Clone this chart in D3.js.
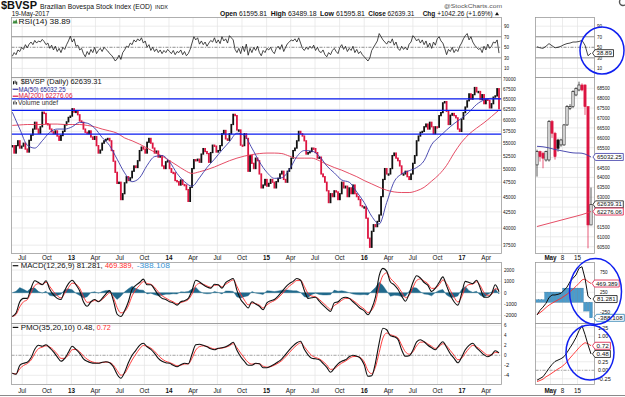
<!DOCTYPE html>
<html><head><meta charset="utf-8">
<script src="https://cdn.jsdelivr.net/npm/d3@7/dist/d3.min.js"></script>
<style>
html,body{margin:0;padding:0;background:#fff;}
svg{display:block;}
text{font-family:"Liberation Sans",Arial,sans-serif;}
</style></head><body>
<svg id="chart" width="625" height="397"></svg>
<script>
// ---------------- DATA ----------------
const weekStart = "2012-05-25";            // first weekly bar (Fridays)
const xDomain = ["2012-05-22", "2017-05-19"];
// weekly closes, thousands of points
const closes = [
54.5,53.0,54.5,55.5,54.0,54.4,55.0,53.8,53.2,55.6,
56.7,58.0,59.5,58.0,57.1,58.5,61.8,61.5,59.2,59.0,
58.0,57.4,57.0,57.6,56.5,55.6,56.6,57.5,58.9,59.6,
60.6,60.9,
62.6,61.8,62.0,61.2,59.8,59.5,58.0,57.3,57.0,57.6,
56.3,55.8,56.4,54.5,53.0,53.6,55.0,55.5,55.8,56.0,
55.5,53.5,51.4,49.3,47.3,47.5,44.5,45.5,47.4,48.5,
47.8,48.3,49.5,50.5,50.2,51.5,53.5,54.2,53.8,53.0,
55.2,56.0,55.0,54.0,53.0,53.4,52.2,52.5,50.5,50.0,
51.3,51.5,
50.0,49.3,49.2,47.8,47.6,47.0,47.9,47.1,47.0,46.2,
44.2,46.6,50.0,51.7,51.5,51.8,51.2,52.8,53.9,53.3,
52.9,51.2,53.1,54.6,54.4,53.2,53.5,54.5,57.0,57.7,
55.9,55.6,57.0,59.0,61.3,61.0,57.8,57.8,54.6,54.5,
57.0,56.0,49.5,52.5,51.0,50.0,52.0,51.5,49.0,46.5,
47.0,48.0,
46.8,47.3,48.0,47.5,46.5,47.6,48.2,49.0,49.5,48.0,
47.5,49.5,50.0,52.0,53.5,54.0,55.5,57.5,57.0,56.5,
55.5,52.8,53.1,53.3,54.0,53.9,53.1,52.0,52.2,49.0,
48.5,47.5,46.0,44.0,45.5,45.0,46.0,45.8,44.5,45.5,
47.5,46.5,46.8,45.0,46.5,45.5,47.0,45.5,45.0,44.5,
43.5,43.3,
43.3,41.5,38.5,37.2,39.5,40.5,40.2,41.0,42.0,45.0,
48.0,50.0,49.0,49.0,50.0,52.5,53.0,52.0,51.5,50.5,
49.0,49.0,49.5,48.5,48.0,49.0,51.0,52.5,55.5,56.5,
57.3,57.5,58.5,59.1,58.0,59.5,58.5,57.0,58.5,58.4,
61.0,61.7,64.0,64.3,62.0,59.0,61.1,61.5,61.0,60.5,
58.0,57.5,60.2,
61.7,63.0,64.5,66.2,64.9,66.0,67.8,66.7,66.8,64.8,
66.0,63.8,64.9,64.6,62.8,63.8,65.4,65.7,67.5,62.6
];
// moving averages, one value every 4 weeks (thousands)
const ma50 = [
61.8,58.0,54.6,54.0,55.5,57.3,58.0,58.0,58.5,59.5,
59.3,58.2,56.2,54.5,51.8,49.2,47.6,48.3,50.6,52.3,
52.5,51.3,49.1,47.6,46.8,48.3,50.2,51.8,53.6,55.3,
57.1,56.6,54.0,51.3,49.3,48.2,48.3,49.8,52.3,53.5,
53.4,52.4,50.5,49.2,47.9,47.5,45.8,44.0,41.8,40.6,
44.0,47.6,49.0,49.6,50.2,51.5,54.7,56.3,57.8,59.2,
60.4,61.8,63.6,64.7,65.1,65.03];
const ma200 = [
58.8,58.9,59.0,59.0,59.0,59.1,59.1,59.0,59.0,59.0,
58.8,58.5,58.0,57.6,57.1,56.1,55.5,54.8,54.0,53.2,
52.4,51.5,50.6,49.7,49.1,49.4,49.8,50.3,50.9,51.5,
52.0,52.4,52.7,52.9,53.0,53.0,52.9,52.4,52.0,52.0,
52.0,51.5,50.8,50.2,49.7,49.1,48.5,47.8,47.2,46.6,
46.1,45.8,45.7,45.7,46.0,46.6,47.7,48.9,50.6,53.0,
55.2,56.9,58.2,59.4,60.8,62.28];
const hLines = [64.95, 62.2, 56.9];
// weekly RSI(14)
const rsi = [
33,40,36,45,42,50,46,55,49,56, 60,55,63,58,62,60,65,61,55,58,
48,54,45,52,42,48,40,50,46,55, 62,71,60,66,52,54,45,48,38,32,
42,36,46,40,50,38,44,48,42,50, 46,43,38,35,30,24,28,35,27,40,
45,52,50,58,55,64,60,66,62,68, 58,62,50,55,44,50,42,47,40,45,
38,44,40,46,42,38,44,36,42,40, 45,36,42,34,38,46,58,70,64,68,
56,62,55,60,52,58,63,60,68,58, 64,57,70,62,66,58,72,68,64,46,
40,48,38,52,42,56,35,48,40,50, 44,52,40,34,44,40,48,45,50,42,
38,48,52,46,55,42,50,57,60,64, 62,66,60,68,58,48,44,50,46,52,
48,54,44,50,42,40,45,36,32,40, 36,44,48,42,38,50,55,46,52,42,
48,44,52,40,46,38,42,36,32,28, 24,30,44,50,56,62,76,70,64,60,
56,62,58,66,54,60,48,44,52,46, 50,45,56,60,72,68,62,66,58,64,
55,62,50,58,48,60,54,66,70,62, 58,48,36,46,42,50,40,46,42,52,
58,66,72,76,64,70,60,54,50,46, 48,40,52,45,56,48,52,60,58,64,39
];
// MACD(12,26,9) line, one value every 2 weeks
const macd = [
-2100,-1800,-800,-500,-500,400,1050,900,700,1050,
300,-200,-500,-600,200,800,1100,700,150,-800,
-1200,-800,-600,-800,-500,-100,200,-700,-1900,-2100,
-1600,-800,300,650,900,1200,700,700,300,-200,
-500,-600,-800,-900,-1100,-800,-700,-500,200,1100,
950,700,500,400,750,700,400,900,1100,1250,
200,-600,-1000,-1350,-800,-1000,-1200,-1500,-900,-700,
-600,-300,100,500,800,1000,1250,1100,200,-500,
-450,-400,-750,-1100,-1400,-1650,-900,-800,-500,-400,
-500,-800,-1100,-1400,-1600,-1950,-1400,-400,1500,2150,
1900,950,700,300,-300,-750,-100,900,1500,1300,
900,650,100,400,900,1400,600,-200,-800,-1100,
-100,1000,900,800,1100,400,-400,-400,-100,700,
81];
// PMO(35,20,10), one value every 2 weeks
const pmo = [
-3.6,-3.8,-2.0,-1.6,-1.4,-0.5,1.2,2.0,1.8,2.1,
1.5,0.7,-0.3,-1.2,-0.6,0.6,1.8,1.2,0.4,-0.7,
-1.2,-1.5,-1.6,-1.6,-1.4,-1.3,-1.5,-2.3,-3.8,-4.6,
-3.4,-1.5,0.0,1.0,2.0,2.4,1.7,1.2,0.4,-0.6,
-1.2,-1.5,-1.6,-2.0,-2.3,-1.9,-1.6,-1.7,0.2,2.1,
2.2,2.0,1.7,1.3,1.1,1.4,1.5,1.7,2.1,2.6,
1.0,-0.3,-1.2,-2.0,-2.0,-1.6,-1.7,-2.5,-2.5,-2.2,
-1.8,-1.3,-0.7,0.2,1.1,1.9,2.5,2.8,1.2,0.1,
-0.6,-0.7,-0.9,-1.6,-2.4,-3.4,-2.6,-1.7,-1.2,-0.9,
-0.3,0.0,-0.2,-0.6,-1.9,-4.2,-4.1,-1.5,2.5,5.4,
5.1,3.9,3.7,3.2,1.1,-0.2,-0.1,1.0,2.7,3.1,
2.7,2.0,1.5,1.1,2.0,2.7,1.6,0.3,-0.6,-1.5,
-0.4,1.1,2.0,2.4,1.5,0.8,0.1,-0.3,0.1,0.9,
0.48];
const signalAlpha = 0.6;
// axis ticks
const priceTicks = [70000,67500,65000,62500,60000,57500,55000,52500,50000,47500,45000,42500,40000,37500];
const rsiTicks = [90,70,50,30,10];
const macdTicks = [2000,1000,0,-1000,-2000];
const pmoTicks = [6,4,2,0,-2,-4];
const xTickDates = ["2012-07-01","2012-10-01","2013-01-01","2013-04-01","2013-07-01","2013-10-01",
 "2014-01-01","2014-04-01","2014-07-01","2014-10-01","2015-01-01","2015-04-01","2015-07-01","2015-10-01",
 "2016-01-01","2016-04-01","2016-07-01","2016-10-01","2017-01-01","2017-04-01"];
const xTickLabels = ["Jul","Oct","13","Apr","Jul","Oct","14","Apr","Jul","Oct","15","Apr","Jul","Oct","16","Apr","Jul","Oct","17","Apr"];
// last-month detail panel (daily)
const miniDays = ["2017-04-24","2017-04-25","2017-04-26","2017-04-27","2017-04-28","2017-05-02","2017-05-03","2017-05-04","2017-05-05",
 "2017-05-08","2017-05-09","2017-05-10","2017-05-11","2017-05-12","2017-05-15","2017-05-16","2017-05-17","2017-05-18","2017-05-19"];
const miniOpen  = [64630,65300,65220,64880,64880,66820,66230,65890,65640,65640,66650,67490,67575,68164,68416,68667,68667,67575,61597];
const miniHigh  = [65400,65350,65300,65350,66900,66900,66300,65950,65950,66700,67650,67700,68400,68550,68835,68750,68700,67575,63489];
const miniLow   = [64040,64800,64460,64800,64800,66000,64900,65300,65550,65600,66600,67400,67500,68100,68350,68350,67155,60420,61597];
const miniClose = [65300,65050,64970,65300,66820,66230,65050,65470,65890,66650,67575,67575,68330,68500,68667,68416,67575,61597,62639];
const miniMA50  = [65570,65560,65545,65520,65490,65450,65410,65380,65350,65320,65290,65260,65240,65230,65230,65220,65180,65110,65032];
const miniMA200 = [61520,61560,61600,61640,61680,61720,61760,61800,61840,61880,61920,61960,62000,62040,62080,62120,62170,62220,62276];
const miniRSI   = [51,49,48,52,57,53,49,50,52,55,57,58,60,60,61,63,54,34,38.89];
const miniMACD  = [-318,-200,-120,-25,120,183,183,200,225,300,380,516,600,683,850,890,600,150,81.281];
const miniSignal= [-300,-260,-200,-130,-70,-25,20,60,100,150,200,266,330,400,475,560,583,520,469.389];
const miniHist  = [65,65,65,255,255,255,255,255,255,355,355,355,355,355,355,355,-220,-220,-388.108];
const miniPMO   = [-0.29,-0.24,-0.19,-0.07,0.06,0.17,0.26,0.30,0.34,0.40,0.52,0.66,0.80,0.96,1.16,1.31,1.05,0.75,0.48];
const miniPMOSig= [-0.33,-0.30,-0.26,-0.19,-0.14,-0.08,-0.02,0.04,0.09,0.16,0.25,0.36,0.46,0.56,0.66,0.75,0.81,0.78,0.72];
const miniPriceTicks = [68500,68000,67500,67000,66500,66000,65500,64500,64000,63500,63000,61500,61000,60500];
const miniPriceGrid = [68500,68000,67500,67000,66500,66000,65500,65000,64500,64000,63500,63000,62500,62000,61500,61000,60500];
const miniMACDTicks = [750,250,-250];
const miniMACDGrid = [750,500,250,0,-250];
const miniPMOTicks = ["1.25","1.00","0.25","0.00","-0.25"];
const miniPMOGrid = [1.25,1.0,0.75,0.5,0.25,0,-0.25];
const miniXTicks = ["2017-05-02","2017-05-08","2017-05-15"];
const miniXLabels = ["May","8","15"];

// ---------------- LAYOUT ----------------
const svg = d3.select("#chart");
const L = 11.5, R = 501.5, ML = 535.5, MR = 594.5;
const P = {rsi:[17.5,77.5], price:[77.5,253.5], macd:[262.5,323.5], pmo:[323.5,384.5]};
const parse = d3.utcParse("%Y-%m-%d");
const firstWeek = parse(weekStart);
const weekDates = closes.map((_, i) => d3.utcDay.offset(firstWeek, 7 * i));
const x = d3.scaleUtc().domain(xDomain.map(parse)).range([L, 499]);
const yP = d3.scaleLog().domain([36.344, 70.396]).range([253.5, 77.5]);
const yR = d3.scaleLinear().domain([0, 100]).range([73.7, 20.9]);
const yM = d3.scaleLinear().domain([-2000, 2000]).range([315.36, 270.04]);
const yO = d3.scaleLinear().domain([-4, 6]).range([375.3, 325.3]);
const xm = d3.scaleBand().domain(miniDays).range([ML, 592.5]);
const xmc = d => xm(d) + xm.bandwidth() / 2;
const ymP = d3.scaleLinear().domain([60500, 68500]).range([246.7, 88.3]);
const ymM = d3.scaleLinear().domain([0, 750]).range([302.3, 272.3]);
const ymO = d3.scaleLinear().domain([0, 1.25]).range([370.3, 327.7]);

const GRID = "#e4e4e4", BORDER = "#9c9c9c", RED = "#dd1541", BLUE_MA = "#3a3aa8";

function hline(g, x1, x2, y, color, w, dash) {
  const l = g.append("line").attr("x1", x1).attr("x2", x2).attr("y1", y).attr("y2", y)
    .attr("stroke", color).attr("stroke-width", w);
  if (dash) l.attr("stroke-dasharray", dash);
  return l;
}
function vline(g, xx, y1, y2, color, w) {
  return g.append("line").attr("x1", xx).attr("x2", xx).attr("y1", y1).attr("y2", y2).attr("stroke", color).attr("stroke-width", w);
}
function tlabel(xp, yp, s, opts = {}) {
  const t = svg.append("text").attr("x", xp).attr("y", yp).attr("font-size", opts.size || 5.6)
    .attr("fill", opts.fill || "#111").text(s);
  if (opts.weight) t.attr("font-weight", opts.weight);
  if (opts.anchor) t.attr("text-anchor", opts.anchor);
  if (opts.len) t.attr("textLength", opts.len).attr("lengthAdjust", "spacingAndGlyphs");
  return t;
}
function ytick(xp, yp, s) { tlabel(xp, yp + 2, s, {len: s.length * 2.55}); }

// ---------------- GRIDS ----------------
const grid = svg.append("g");
const tickDates = xTickDates.map(parse);
Object.values(P).forEach(([t, b]) => tickDates.forEach(d => vline(grid, x(d), t, b, GRID, 0.7)));
rsiTicks.forEach(v => hline(grid, L, R, yR(v), GRID, 0.7));
priceTicks.forEach(v => hline(grid, L, R, yP(v / 1000), GRID, 0.7));
macdTicks.forEach(v => hline(grid, L, R, yM(v), GRID, 0.7));
pmoTicks.forEach(v => hline(grid, L, R, yO(v), GRID, 0.7));
const mg = svg.append("g");
Object.values(P).forEach(([t, b]) => miniXTicks.forEach(d => vline(mg, xm(d), t, b, GRID, 0.7)));
rsiTicks.forEach(v => hline(mg, ML, MR, yR(v), GRID, 0.7));
miniPriceGrid.forEach(v => hline(mg, ML, MR, ymP(v), GRID, 0.7));
miniMACDGrid.forEach(v => hline(mg, ML, MR, ymM(v), GRID, 0.7));
miniPMOGrid.forEach(v => hline(mg, ML, MR, ymO(v), GRID, 0.7));

// ---------------- RSI ----------------
[[70, null], [30, null], [50, "3,1.5,1,1.5"]].forEach(([v, d]) => {
  hline(svg, L, R, yR(v), "#7d7d7d", 0.8, d);
  hline(svg, ML, MR, yR(v), "#7d7d7d", 0.8, d);
});
svg.append("path").datum(rsi).attr("fill", "none").attr("stroke", "#1a1a1a").attr("stroke-width", 0.8)
  .attr("d", d3.line().x((d, i) => x(weekDates[i])).y(d => yR(d)));
svg.append("path").datum(miniRSI).attr("fill", "none").attr("stroke", "#1a1a1a").attr("stroke-width", 0.8)
  .attr("d", d3.line().x((d, i) => xmc(miniDays[i])).y(d => yR(d)));

// ---------------- PRICE ----------------
const cg = svg.append("g");
closes.forEach((c, i) => {
  const o = i ? closes[i - 1] : c;
  const y1 = yP(Math.max(o, c)), y2 = yP(Math.min(o, c));
  cg.append("rect").attr("x", x(weekDates[i]) - 0.9).attr("width", 1.8)
    .attr("y", y1 - 0.6).attr("height", Math.max(1.2, y2 - y1) + 1.2)
    .attr("fill", c >= o ? "#111" : RED);
});
const maLine = step => d3.line().curve(d3.curveMonotoneX).x((d, i) => x(weekDates[Math.min(i * step, weekDates.length - 1)])).y(d => yP(d));
svg.append("path").datum(ma200).attr("fill", "none").attr("stroke", "#e23a55").attr("stroke-width", 0.9).attr("d", maLine(4));
svg.append("path").datum(ma50).attr("fill", "none").attr("stroke", BLUE_MA).attr("stroke-width", 0.9).attr("d", maLine(4));
hLines.forEach(v => hline(svg, L, R, yP(v), "#0a1cf0", 1.3));

// mini price
const mcg = svg.append("g");
miniDays.forEach((d, i) => {
  const o = miniOpen[i], c = miniClose[i], prev = i ? miniClose[i - 1] : o;
  const col = c >= prev ? "#111" : RED;
  const cx = xmc(d);
  vline(mcg, cx, ymP(miniHigh[i]), ymP(miniLow[i]), col, 0.7);
  const y1 = ymP(Math.max(o, c)), y2 = ymP(Math.min(o, c));
  mcg.append("rect").attr("x", cx - 1.1).attr("width", 2.2).attr("y", y1).attr("height", Math.max(0.8, y2 - y1))
    .attr("fill", c > o ? "#fff" : col).attr("stroke", col).attr("stroke-width", 0.6);
});
const mLine = arr => d3.line().x((d, i) => xmc(miniDays[i])).y(d => arr(d));
svg.append("path").datum(miniMA200).attr("fill", "none").attr("stroke", "#e23a55").attr("stroke-width", 0.9).attr("d", mLine(ymP));
svg.append("path").datum(miniMA50).attr("fill", "none").attr("stroke", BLUE_MA).attr("stroke-width", 0.9).attr("d", mLine(ymP));

// ---------------- MACD ----------------
const ema = (arr, a) => { let p; return arr.map((v, i) => (p = i ? p + a * (v - p) : v)); };
const biDates = macd.map((_, i) => weekDates[Math.min(2 * i, weekDates.length - 1)]);
const macdSig = ema(macd, signalAlpha);
const macdHist = macd.map((v, i) => v - macdSig[i]);
svg.append("path").datum(macdHist).attr("fill", "#20698c").attr("stroke", "#20698c").attr("stroke-width", 0.4)
  .attr("d", d3.area().x((d, i) => x(biDates[i])).y0(yM(0)).y1(d => yM(d)));
svg.append("path").datum(macdSig).attr("fill", "none").attr("stroke", "#ff2a2a").attr("stroke-width", 0.9)
  .attr("d", d3.line().curve(d3.curveMonotoneX).x((d, i) => x(biDates[i])).y(d => yM(d)));
svg.append("path").datum(macd).attr("fill", "none").attr("stroke", "#111").attr("stroke-width", 1.1)
  .attr("d", d3.line().curve(d3.curveMonotoneX).x((d, i) => x(biDates[i])).y(d => yM(d)));
miniDays.forEach((d, i) => {
  const v = miniHist[i];
  svg.append("rect").attr("x", xm(d) + 0.1).attr("width", xm.bandwidth() - 0.2)
    .attr("y", Math.min(ymM(0), ymM(v))).attr("height", Math.abs(ymM(v) - ymM(0)))
    .attr("fill", "#4b9bcb").attr("stroke", "#2a6f97").attr("stroke-width", 0.3);
});
svg.append("path").datum(miniSignal).attr("fill", "none").attr("stroke", "#ff2a2a").attr("stroke-width", 0.9).attr("d", mLine(ymM));
svg.append("path").datum(miniMACD).attr("fill", "none").attr("stroke", "#111").attr("stroke-width", 1).attr("d", mLine(ymM));

// ---------------- PMO ----------------
hline(svg, L, R, yO(0), "#999", 0.8, "3,1.5,1,1.5");
hline(svg, ML, MR, ymO(0), "#999", 0.8, "3,1.5,1,1.5");
const pmoSig = ema(pmo, signalAlpha);
svg.append("path").datum(pmoSig).attr("fill", "none").attr("stroke", "#ff2a2a").attr("stroke-width", 0.9)
  .attr("d", d3.line().curve(d3.curveMonotoneX).x((d, i) => x(biDates[i])).y(d => yO(d)));
svg.append("path").datum(pmo).attr("fill", "none").attr("stroke", "#111").attr("stroke-width", 1.1)
  .attr("d", d3.line().curve(d3.curveMonotoneX).x((d, i) => x(biDates[i])).y(d => yO(d)));
svg.append("path").datum(miniPMOSig).attr("fill", "none").attr("stroke", "#ff2a2a").attr("stroke-width", 0.9).attr("d", mLine(ymO));
svg.append("path").datum(miniPMO).attr("fill", "none").attr("stroke", "#111").attr("stroke-width", 1).attr("d", mLine(ymO));

// ---------------- BORDERS ----------------
Object.values(P).forEach(([t, b]) => {
  svg.append("rect").attr("x", L).attr("y", t).attr("width", R - L).attr("height", b - t).attr("fill", "none").attr("stroke", BORDER).attr("stroke-width", 0.8);
  svg.append("rect").attr("x", ML).attr("y", t).attr("width", MR - ML).attr("height", b - t).attr("fill", "none").attr("stroke", BORDER).attr("stroke-width", 0.8);
});
hline(svg, 0, 625, 395.5, "#8a8a8a", 1);

// ---------------- AXIS LABELS ----------------
rsiTicks.forEach(v => { ytick(504, yR(v), String(v)); ytick(597, yR(v), String(v)); });
priceTicks.forEach(v => ytick(503, yP(v / 1000), String(v)));
macdTicks.forEach(v => ytick(504, yM(v), String(v)));
pmoTicks.forEach(v => ytick(504, yO(v), String(v)));
miniPriceTicks.forEach(v => ytick(597, ymP(v), String(v)));
miniMACDTicks.forEach(v => ytick(600, ymM(v), String(v)));
miniPMOTicks.forEach(s => ytick(598, ymO(+s), s));
[259.8, 392.5].forEach(yy => {
  tickDates.forEach((d, i) => {
    const lab = xTickLabels[i];
    tlabel(x(d), yy, lab, {size: 6.3, anchor: "middle", weight: /^\d/.test(lab) ? "bold" : null});
  });
  miniXTicks.forEach((d, i) => tlabel(xm(d), yy, miniXLabels[i], {size: 6.3, anchor: "middle", weight: i === 0 ? "bold" : null}));
});

function vbox(yv, s, color, x0) {
  const w = s.length * 3.1 + 3, h = 7;
  svg.append("path").attr("d", `M${x0 - 2.5},${yv} L${x0},${yv - h / 2} H${x0 + w} V${yv + h / 2} H${x0} Z`)
    .attr("fill", "#fff").attr("stroke", color).attr("stroke-width", 0.8);
  tlabel(x0 + 1.5, yv + 2.1, s, {size: 5.8, len: w - 3});
}
vbox(yR(38.89), "38.89", "#111", 595);
vbox(ymP(65032.25), "65032.25", BLUE_MA, 595.5);
vbox(ymP(62639.31), "62639.31", "#111", 595.5);
vbox(ymP(62276.06), "62276.06", RED, 595.5);
vbox(ymM(469.389), "469.389", RED, 594.5);
vbox(ymM(81.281), "81.281", "#111", 595.5);
vbox(ymM(-388.108), "-388.108", "#2a7fb0", 596.5);
vbox(ymO(0.72), "0.72", RED, 595);
vbox(ymO(0.48), "0.48", "#111", 595);

// ---------------- HEADER & PANEL TITLES ----------------
tlabel(1, 9, "$BVSP", {size: 10.2, weight: "bold", len: 36});
tlabel(40, 8.8, "Brazilian Bovespa Stock Index (EOD)", {size: 7, len: 112});
tlabel(155, 8.8, "INDX", {size: 5.5, len: 13});
tlabel(11.7, 16.2, "19-May-2017", {size: 6.6, len: 37.5});
tlabel(444, 7.5, "@StockCharts.com", {size: 5.6, fill: "#555", len: 58});
svg.append("circle").attr("cx", 623).attr("cy", 2).attr("r", 3.5).attr("fill", "none").attr("stroke", "#555").attr("stroke-width", 1.4);
const hdr = [["Open", "61595.81", 220, 47], ["High", "63489.18", 270.7, 46], ["Low", "61595.81", 320, 45], ["Close", "62639.31", 368.3, 46], ["Chg", "+1042.26 (+1.69%)", 422.7, 70]];
hdr.forEach(([a, b, xx, w]) => {
  const t = svg.append("text").attr("x", xx).attr("y", 15.8).attr("font-size", 6.8).attr("fill", "#111")
    .attr("textLength", w).attr("lengthAdjust", "spacingAndGlyphs");
  t.append("tspan").attr("font-weight", "bold").text(a + " ");
  t.append("tspan").text(b);
});
svg.append("path").attr("d", "M495,15.3 L497,12 L499,15.3 Z").attr("fill", "#111");

svg.append("path").attr("d", "M12.5,23.5 L13.8,20 L15,21.6 L16.4,19 L17.6,23.5 Z").attr("fill", "#3d8a3d");
tlabel(18.5, 23.6, "RSI(14) 38.89", {size: 6.6, len: 52});
[[13, 81.2], [14.6, 80.6], [16.2, 81.6]].forEach(([xx, yy]) => svg.append("rect").attr("x", xx).attr("y", yy).attr("width", 1).attr("height", 3.2).attr("fill", "#111"));
tlabel(20.7, 84.2, "$BVSP (Daily) 62639.31", {size: 6.6, len: 81});
hline(svg, 12.7, 18.3, 89.3, BLUE_MA, 1.2);
tlabel(18.6, 91.5, "MA(50) 65032.25", {size: 6.6, fill: "#2a2a9a", len: 47});
hline(svg, 12.7, 18.3, 96.2, RED, 1.2);
tlabel(18.6, 98.4, "MA(200) 62276.06", {size: 6.6, fill: RED, len: 54});
[[13, 101.5], [14.5, 100.5], [16, 102]].forEach(([xx, yy]) => svg.append("rect").attr("x", xx).attr("y", yy).attr("width", 1).attr("height", 104.5 - yy).attr("fill", "#555"));
tlabel(18, 104.6, "Volume undef", {size: 6.4, fill: "#333", len: 40});
hline(svg, 12.7, 18.3, 265.7, "#111", 1.2);
tlabel(20.7, 268, "MACD(12,26,9) 81.281,", {size: 6.6, len: 82});
tlabel(105, 268, "469.389,", {size: 6.6, fill: "#ff2a2a", len: 28.5});
tlabel(136.7, 268, "-388.108", {size: 6.6, fill: "#3a95d5", len: 33.3});
hline(svg, 12.7, 18.3, 327.4, "#111", 1.2);
tlabel(20.7, 329.7, "PMO(35,20,10) 0.48,", {size: 6.6, len: 74});
tlabel(96.7, 329.7, "0.72", {size: 6.6, fill: "#ff2a2a", len: 14});

// ---------------- ANNOTATION ELLIPSES ----------------
[[602, 50.5, 22, 23.5], [595.5, 291.5, 26, 33], [590, 352.5, 24, 27.5]].forEach(([cx, cy, rx, ry]) =>
  svg.append("ellipse").attr("cx", cx).attr("cy", cy).attr("rx", rx).attr("ry", ry)
    .attr("fill", "none").attr("stroke", "#1020f0").attr("stroke-width", 1.5));
</script></body></html>
